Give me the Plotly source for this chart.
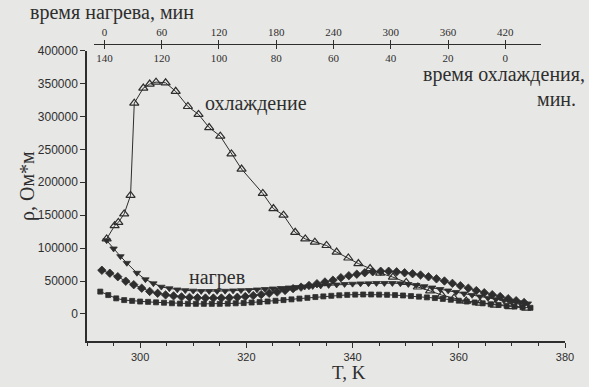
import plotly.graph_objects as go

# ---------------- data ----------------
# cooling (open triangles)
T_cool = [293.7, 295.2, 295.9, 297.0, 298.2, 298.9, 300.6, 301.8, 303.0, 304.8,
          306.7, 309.0, 311.0, 313.0, 315.1, 317.2, 319.1, 323.1, 325.1, 327.0,
          329.2, 331.1, 332.9, 335.1, 337.0, 339.2, 341.1, 343.3, 345.2, 347.6,
          350.1, 352.3, 354.6, 356.8, 359.1, 361.4, 364.0, 366.8, 369.6, 372.7]
rho_cool = [114000, 134000, 139000, 152000, 180000, 320000, 343000, 349000, 352000, 351000,
            338000, 315000, 303000, 283000, 270000, 243000, 220000, 183000, 160000, 150000,
            124000, 114000, 109000, 104000, 94000, 85000, 76500, 69000, 62000, 56000,
            48000, 41000, 35000, 28700, 24000, 19600, 16600, 13600, 11300, 9000]

# heating, series 1 (filled down-triangles)
T_heat1 = [293.7, 295.0, 296.3, 297.5, 299.4, 301.0, 302.5, 304.0, 305.5, 307.0,
           308.5, 310.0, 311.5, 313.0, 314.5, 316.0, 317.5, 319.0, 320.5, 322.0,
           323.5, 325.0, 326.5, 328.0, 329.5, 331.0, 332.5, 334.0, 335.5, 337.0,
           338.5, 340.0, 341.5, 343.0, 344.5, 346.0, 347.5, 349.0, 350.5, 352.0,
           353.5, 355.0, 356.5, 358.0, 359.5, 361.0, 362.5, 364.0, 365.5, 367.0,
           368.5, 370.0, 371.5, 373.0]
rho_heat1 = [111700, 99200, 87500, 77400, 62300, 52400, 46300, 41200, 38800, 37000,
             35900, 35200, 34700, 34700, 34700, 35000, 35500, 35900, 36200, 37000,
             37700, 38500, 39200, 40000, 40800, 41500, 42300, 43000, 43800, 44500,
             45300, 45700, 46200, 46300, 46800, 46800, 46800, 46300, 45300, 43800,
             42000, 40000, 37700, 35500, 33200, 30900, 28700, 26400, 24200, 22200,
             20400, 18900, 17400, 15800]

# heating, series 2 (filled diamonds)
T_heat2 = [292.8, 294.3, 295.8, 297.3, 298.8, 300.3, 301.8, 303.3, 304.8, 306.3,
           307.8, 309.3, 310.8, 312.3, 313.8, 315.3, 316.8, 318.3, 319.8, 321.3,
           322.8, 324.3, 325.8, 327.3, 328.8, 330.3, 331.8, 333.3, 334.8, 336.3,
           337.8, 339.3, 340.8, 342.3, 343.8, 345.3, 346.8, 348.3, 349.8, 351.3,
           352.8, 354.3, 355.8, 357.3, 358.8, 360.3, 361.8, 363.3, 364.8, 366.3,
           367.8, 369.3, 370.8, 372.3]
rho_heat2 = [66400, 61900, 56600, 49800, 44500, 39200, 34300, 31400, 29000, 27500,
             26000, 25200, 24600, 24200, 24200, 24200, 24600, 25400, 26400, 27900,
             29400, 31400, 33200, 35800, 38500, 40800, 43300, 46000, 48600, 51300,
             55100, 58100, 60400, 62600, 64100, 64900, 64900, 64000, 62600, 61100,
             59200, 56500, 53400, 50100, 46500, 42900, 39200, 35500, 32300, 29300,
             26400, 23200, 20200, 17400]

# heating, series 3 (filled squares)
T_heat3 = [292.5, 294.0, 295.5, 297.0, 298.5, 300.0, 301.5, 303.0, 304.5, 306.0,
           307.5, 309.0, 310.5, 312.0, 313.5, 315.0, 316.5, 318.0, 319.5, 321.0,
           322.5, 324.0, 325.5, 327.0, 328.5, 330.0, 331.5, 333.0, 334.5, 336.0,
           337.5, 339.0, 340.5, 342.0, 343.5, 345.0, 346.5, 348.0, 349.5, 351.0,
           352.5, 354.0, 355.5, 357.0, 358.5, 360.0, 361.5, 363.0, 364.5, 366.0,
           367.5, 369.0, 370.5, 372.0, 373.5]
rho_heat3 = [34000, 28700, 23700, 21100, 19900, 18900, 18400, 17700, 17100, 16300,
             15800, 15500, 15400, 15400, 15400, 15400, 15700, 16200, 16600, 17400,
             18100, 19000, 20100, 21100, 22200, 23400, 24500, 25700, 26700, 27600,
             28400, 29000, 29400, 29600, 29600, 29400, 29100, 28700, 28100, 27200,
             26300, 25200, 24200, 22900, 21600, 20200, 18900, 17500, 16200, 14800,
             13600, 12400, 11300, 10300, 9400]

T_ticks = [300, 320, 340, 360, 380]
rho_ticks = [0, 50000, 100000, 150000, 200000, 250000, 300000, 350000, 400000]
heat_min_ticks = [0, 60, 120, 180, 240, 300, 360, 420]
cool_min_ticks = [140, 120, 100, 80, 60, 40, 20, 0]

# ---------------- figure ----------------
INK = "#2e2e2e"
BG = "#e7e7e5"
SERIF = "Liberation Serif, Times New Roman, serif"
SANS = "Liberation Sans, Arial, sans-serif"

fig = go.Figure()

def add(T, r, symbol, size, lw=1.0):
    fig.add_trace(go.Scatter(
        x=T, y=r, mode="lines+markers",
        line=dict(color=INK, width=lw),
        marker=dict(symbol=symbol, size=size, color=INK,
                    line=dict(color=INK, width=0.8)),
        showlegend=False, hoverinfo="skip"))

# dummy traces to register the top axes (invisible)
fig.add_trace(go.Scatter(x=[0], y=[None], xaxis="x2", yaxis="y",
                         showlegend=False, hoverinfo="skip"))
fig.add_trace(go.Scatter(x=[0], y=[None], xaxis="x3", yaxis="y",
                         showlegend=False, hoverinfo="skip"))

add(T_heat3, rho_heat3, "square", 5)
add(T_heat2, rho_heat2, "diamond", 6.5)
add(T_heat1, rho_heat1, "triangle-down", 6.5)
fig.add_trace(go.Scatter(
    x=T_cool, y=rho_cool, mode="lines+markers",
    line=dict(color=INK, width=1),
    marker=dict(symbol="triangle-up-open", size=8, color=INK,
                line=dict(color=INK, width=1.2)),
    showlegend=False, hoverinfo="skip"))

W, H = 589, 387
ml, mr, mt, mb = 87, 24, 44, 46
pw = W - ml - mr
ph = H - mt - mb

def px_x(p):
    return (p - ml) / pw

fig.update_layout(
    width=W, height=H,
    margin=dict(l=ml, r=mr, t=mt, b=mb),
    paper_bgcolor=BG, plot_bgcolor="rgba(0,0,0,0)",
    showlegend=False,
    xaxis=dict(range=[290, 380], domain=[0, 1], tickvals=T_ticks,
               ticks="outside", ticklen=5, tickcolor=INK, tickwidth=1,
               minor=dict(ticks="outside", ticklen=3, tickcolor=INK, dtick=5),
               showline=True, linecolor=INK, linewidth=1.5,
               showgrid=False, zeroline=False,
               tickfont=dict(family=SANS, size=11, color=INK)),
    yaxis=dict(range=[-41000, 400000], domain=[0, (H - mb - 50.5) / ph],
               tickvals=rho_ticks, ticktext=[str(v) for v in rho_ticks],
               ticks="outside", ticklen=5, tickcolor=INK, tickwidth=1,
               showline=True, linecolor=INK, linewidth=1.5,
               showgrid=False, zeroline=False,
               tickfont=dict(family=SANS, size=12, color=INK)),
    xaxis2=dict(anchor="free", position=1, side="top",
                domain=[px_x(94), px_x(541)], range=[-10.9, 457.4],
                tickvals=heat_min_ticks, ticks="outside", ticklen=4,
                tickcolor=INK, tickwidth=1,
                showline=True, linecolor=INK, linewidth=1,
                showgrid=False, zeroline=False,
                tickfont=dict(family=SERIF, size=11, color=INK)),
    xaxis3=dict(anchor="free", position=1, side="bottom",
                domain=[px_x(94), px_x(541)], range=[143.63, -12.47],
                tickvals=cool_min_ticks, ticks="outside", ticklen=4,
                tickcolor=INK, tickwidth=1,
                showline=True, linecolor=INK, linewidth=1,
                showgrid=False, zeroline=False,
                tickfont=dict(family=SERIF, size=11, color=INK)),
)

def anote(text, px, py, size=16, xanchor="left", angle=0):
    # position in whole-figure pixel coordinates
    fig.add_annotation(text=text, x=(px - ml) / pw, y=(H - mb - py) / ph,
                       xref="paper", yref="paper", showarrow=False,
                       xanchor=xanchor, yanchor="middle", textangle=angle,
                       font=dict(family=SERIF, size=size, color=INK))

anote("время нагрева, мин", 28, 13, size=20)
anote("время охлаждения,", 587, 75, size=20, xanchor="right")
anote("мин.", 578, 99, size=20, xanchor="right")
anote("охлаждение", 203, 103, size=20)
anote("нагрев", 187, 277, size=20)
anote("T, K", 349, 372, size=19, xanchor="center")
anote("ρ, Ом*м", 27, 186, size=20, xanchor="center", angle=-90)

fig.write_html("out.html")
